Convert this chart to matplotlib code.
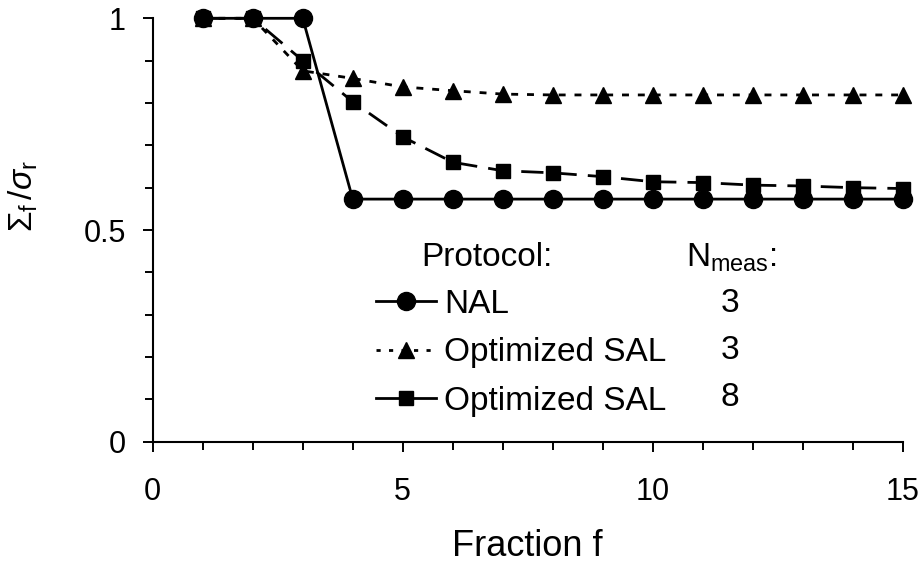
import matplotlib
matplotlib.use("Agg")
import matplotlib.pyplot as plt
from matplotlib.ticker import MultipleLocator

plt.rcParams['font.family'] = ['Liberation Sans', 'DejaVu Sans']
plt.rcParams['mathtext.fontset'] = 'custom'
plt.rcParams['mathtext.rm'] = 'Liberation Sans'
plt.rcParams['mathtext.it'] = 'Liberation Sans:italic'

# data
fraction = list(range(1, 16))
nal = [1.0, 1.0, 1.0, 0.573, 0.573, 0.573, 0.573, 0.573, 0.573, 0.573,
       0.573, 0.573, 0.573, 0.573, 0.573]
sal3 = [1.0, 1.0, 0.876, 0.858, 0.838, 0.829, 0.821, 0.819, 0.819, 0.819,
        0.819, 0.819, 0.819, 0.819, 0.819]
sal8 = [1.0, 1.0, 0.90, 0.803, 0.720, 0.660, 0.640, 0.635, 0.626, 0.614,
        0.612, 0.606, 0.604, 0.600, 0.598]
protocols = ['NAL', 'Optimized SAL', 'Optimized SAL']
n_meas = ['3', '3', '8']


def main():
    fig = plt.figure(figsize=(9.24, 5.65), dpi=100)
    ax = fig.add_axes([0.1653, 0.2182, 0.8117, 0.7494])

    lw = 2.0
    l1, = ax.plot(fraction, nal, color='black', lw=lw, marker='o', ms=13,
                  clip_on=False, zorder=3)
    l2, = ax.plot(fraction, sal3, color='black', lw=lw, marker='^', ms=11,
                  dashes=(2.5, 3.2), clip_on=False, zorder=3)
    l3, = ax.plot(fraction, sal8, color='black', lw=lw, marker='s', ms=10,
                  dashes=(8, 4), clip_on=False, zorder=3)

    ax.set_xlim(0, 15)
    ax.set_ylim(0, 1)
    ax.xaxis.set_major_locator(MultipleLocator(5))
    ax.xaxis.set_minor_locator(MultipleLocator(1))
    ax.yaxis.set_minor_locator(MultipleLocator(0.1))
    ax.set_yticks([0, 0.5, 1])
    ax.set_yticklabels(['0', '0.5', '1'])

    for s in ['top', 'right']:
        ax.spines[s].set_visible(False)
    for s in ['left', 'bottom']:
        ax.spines[s].set_linewidth(1.5)
    ax.tick_params(which='major', direction='out', length=7.2, width=1.4,
                   labelsize=22)
    ax.tick_params(which='minor', direction='out', length=5.6, width=1.4)
    ax.tick_params(axis='y', which='major', pad=12)
    ax.tick_params(axis='x', which='major', pad=18)

    ax.set_xlabel('Fraction f', fontsize=26, labelpad=16)
    ax.set_ylabel(r'$\Sigma_\mathrm{f}\,/\sigma_\mathrm{r}$', fontsize=24)
    ax.yaxis.set_label_coords(-0.150, 0.58)

    leg = ax.legend([l1, l2, l3], protocols, loc='upper left',
                    bbox_to_anchor=(376 / 924, 1 - 289 / 565),
                    bbox_transform=fig.transFigure, frameon=False,
                    fontsize=24, handlelength=1.8, handletextpad=0.25,
                    borderpad=0, borderaxespad=0, labelspacing=0.52)
    handles = leg.legend_handles
    handles[0].set_linestyle('-')
    handles[1].set_dashes((1.5, 3.0))
    handles[2].set_linestyle('-')

    fig.text(487 / 924, 1 - 258 / 565, 'Protocol:', fontsize=24,
             ha='center', va='center')
    fig.text(686 / 924, 1 - 258 / 565, r'N$_\mathrm{meas}$:', fontsize=24,
             ha='left', va='center')
    for i, n in enumerate(n_meas):
        fig.text(730 / 924, 1 - (303 + 47.5 * i) / 565, n, fontsize=24,
                 ha='center', va='center')

    fig.savefig('out.png', dpi=100)


if __name__ == '__main__':
    main()
